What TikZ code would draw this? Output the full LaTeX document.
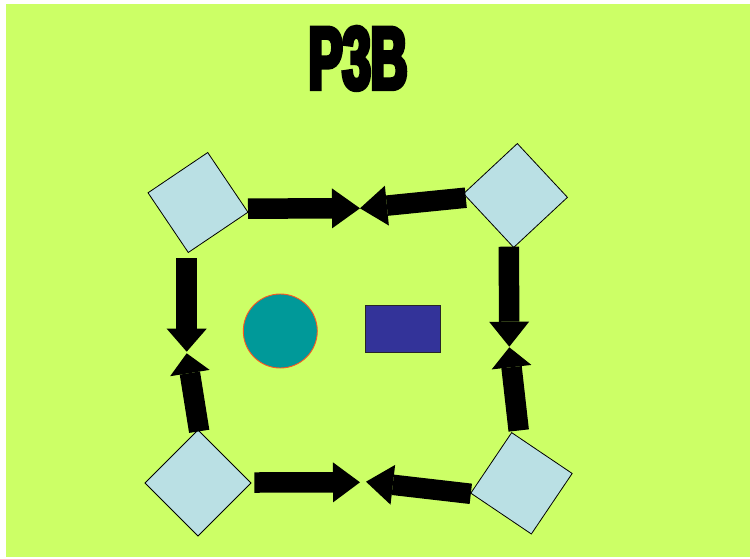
\documentclass[tikz,border=0pt]{standalone}
\usepackage{fontspec}
\usetikzlibrary{arrows.meta}
\newfontfamily\titlefont[FakeStretch=0.57,FakeBold=5]{Liberation Sans}
\definecolor{lime}{HTML}{CCFF66}
\definecolor{paleblue}{HTML}{BAE0E4}
\definecolor{teal}{HTML}{009999}
\definecolor{rim}{HTML}{FF5522}
\definecolor{indigo}{HTML}{333399}
\tikzset{
  tile/.style={draw=black, line width=0.8pt, fill=paleblue, minimum size=#1, inner sep=0pt, shape=rectangle},
  blockarrow/.style={draw=black, line width=20.5pt, line cap=butt,
    -{Triangle[length=#1, width=40pt, line width=0pt]}},
  blockarrow/.default=26pt,
  titletext/.style={inner sep=0pt, anchor=base, font=\titlefont\bfseries\fontsize{89}{89}\selectfont}
}
\begin{document}
\begin{tikzpicture}[x=1pt,y=-1pt]
\useasboundingbox (0,0) rectangle (750,558);
% page and backdrop
\fill[white] (0,0) rectangle (750,558);
\fill[lime] (6,4) rectangle (750,557);

% heading
\node[titletext, text=black] (title) at (358,89) {P3B};

% four corner tiles
\node[tile=72pt, rotate=34] (tl) at (198,202.5) {};
\node[tile=73.5pt, rotate=43] (tr) at (515.5,195.5) {};
\node[tile=75pt, rotate=45] (bl) at (198,483) {};
\node[tile=73pt, rotate=56] (br) at (521.5,483.3) {};

% centre shapes
\node[circle, draw=rim, line width=0.9pt, fill=teal, minimum size=74pt, inner sep=0pt] (disc) at (280.3,331) {};
\node[rectangle, draw=black!85, line width=1.1pt, fill=indigo, minimum width=75pt, minimum height=47pt, inner sep=0pt] (box) at (403.2,328.7) {};

% meeting points of the arrows
\coordinate (mtop) at (360,208.3);
\coordinate (mbotl) at (360,482.3);
\coordinate (mbotr) at (366,481.7);
\coordinate (mleftd) at (186.7,351.7);
\coordinate (mleftu) at (186.7,353.3);
\coordinate (mrightd) at (509.3,346.7);
\coordinate (mrightu) at (509.3,347.3);

% arrow tails
\coordinate (atl) at (248,208.6);
\coordinate (atr) at (465.8,197.7);
\coordinate (abl) at (254.3,482.5);
\coordinate (abr) at (470.8,493.8);
\coordinate (atld) at (186.7,258.3);
\coordinate (ablu) at (199.2,431.3);
\coordinate (atrd) at (508.8,246.7);
\coordinate (abru) at (518.7,430.5);

% block arrows
\draw[blockarrow=28pt] (atl) -- (mtop);
\draw[blockarrow=27pt] (atr) -- (mtop);
\draw[blockarrow=27pt] (abl) -- (mbotl);
\draw[blockarrow=27pt] (abr) -- (mbotr);
\draw[blockarrow=23pt] (atld) -- (mleftd);
\draw[blockarrow=20pt] (ablu) -- (mleftu);
\draw[blockarrow=25pt] (atrd) -- (mrightd);
\draw[blockarrow=20pt] (abru) -- (mrightu);
\end{tikzpicture}
\end{document}
